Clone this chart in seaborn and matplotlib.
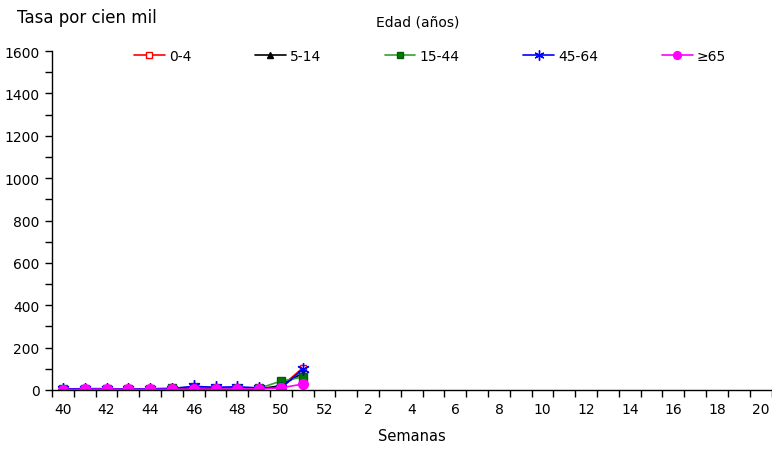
import matplotlib
matplotlib.use("Agg")
import matplotlib.pyplot as plt
import seaborn as sns
import pandas as pd
import numpy as np
from matplotlib.ticker import FixedLocator

sns.set_style("white")
plt.rcParams['font.family'] = ['DejaVu Sans']
plt.rcParams['text.color'] = 'black'
plt.rcParams['axes.labelcolor'] = 'black'
plt.rcParams['xtick.color'] = 'black'
plt.rcParams['ytick.color'] = 'black'

weeks = [str(w) for w in range(40, 53)] + [str(w) for w in range(1, 21)]
data_weeks = [str(w) for w in range(40, 52)]

grp_0_4 = [3, 4, 5, 3, 3, 4, 6, 4, 5, 6, 15, 104]
grp_5_14 = [3, 4, 4, 3, 3, 4, 7, 6, 7, 6, 20, 80]
grp_15_44 = [5, 6, 6, 5, 6, 8, 15, 10, 9, 8, 42, 61]
grp_45_64 = [5, 6, 6, 5, 5, 7, 17, 13, 15, 10, 8, 98]
grp_65 = [2, 3, 4, 3, 3, 3, 5, 4, 5, 5, 10, 28]

series = [
    ("0-4", grp_0_4, dict(color="#FF0000", marker="s", mfc="white", mec="#FF0000", ms=5)),
    ("5-14", grp_5_14, dict(color="#000000", marker="^", mfc="black", mec="black", ms=5)),
    ("15-44", grp_15_44, dict(color="#33A033", marker="s", mfc="#007A00", mec="#006000", ms=6)),
    ("45-64", grp_45_64, dict(color="#0000FF", marker=(6, 2, 0), mfc="#0000FF", mec="#0000FF", ms=9)),
    ("\u226565", grp_65, dict(color="#FF00FF", marker="o", mfc="#FF00FF", mec="#FF00FF", ms=7)),
]

fig = plt.figure(figsize=(7.72, 4.52), dpi=100)
ax = fig.add_axes([52 / 772, 61 / 452, (771.5 - 52) / 772, (391 - 52) / 452])

pos = {w: i for i, w in enumerate(weeks)}
for name, vals, st in series:
    df = pd.DataFrame({"x": [pos[w] for w in data_weeks], "y": vals})
    sns.lineplot(data=df, x="x", y="y", ax=ax, color=st["color"], marker=st["marker"],
                 markerfacecolor=st["mfc"], markeredgecolor=st["mec"], markersize=st["ms"],
                 markeredgewidth=1, linewidth=1.2, label=name)

ax.set_xlim(-0.5, len(weeks) - 0.5)
ax.set_ylim(0, 1600)
ax.set_yticks(np.arange(0, 1601, 200))
ax.yaxis.set_minor_locator(FixedLocator(np.arange(100, 1600, 200)))
ax.set_xticks([i for i in range(len(weeks)) if i % 2 == 0])
ax.set_xticklabels([weeks[i] for i in range(len(weeks)) if i % 2 == 0])
ax.xaxis.set_minor_locator(FixedLocator(np.arange(-0.5, len(weeks), 1.0)))
ax.tick_params(axis="x", which="major", length=0, pad=9, labelsize=10, labelcolor="black")
ax.tick_params(axis="x", which="minor", length=5, width=1, direction="out", color="black")
ax.tick_params(axis="y", which="both", length=5, width=1, direction="out", color="black",
               labelsize=10, pad=4, labelcolor="black")
ax.xaxis.set_ticks_position("bottom")
ax.yaxis.set_ticks_position("left")
for s in ["top", "right"]:
    ax.spines[s].set_visible(False)
for s in ["left", "bottom"]:
    ax.spines[s].set_color("black")
    ax.spines[s].set_linewidth(1)
ax.set_xlabel("Semanas", fontsize=10.5, labelpad=8, color="black")
ax.set_ylabel("")

handles, labels = ax.get_legend_handles_labels()
leg = ax.legend(handles, labels, ncol=5, loc="center", bbox_to_anchor=(430 / 772, 1 - 57 / 452),
                bbox_transform=fig.transFigure, frameon=False, fontsize=10, handlelength=2.2,
                columnspacing=4.6, handletextpad=0.3, borderpad=0, markerscale=0.8)
for t in leg.get_texts():
    t.set_color("black")

fig.text(17 / 772, 1 - 18 / 452, "Tasa por cien mil", fontsize=12, va="center", ha="left", color="black")
fig.text(418 / 772, 1 - 23 / 452, "Edad (años)", fontsize=10, va="center", ha="center", color="black")

fig.savefig("out.png", dpi=100)
